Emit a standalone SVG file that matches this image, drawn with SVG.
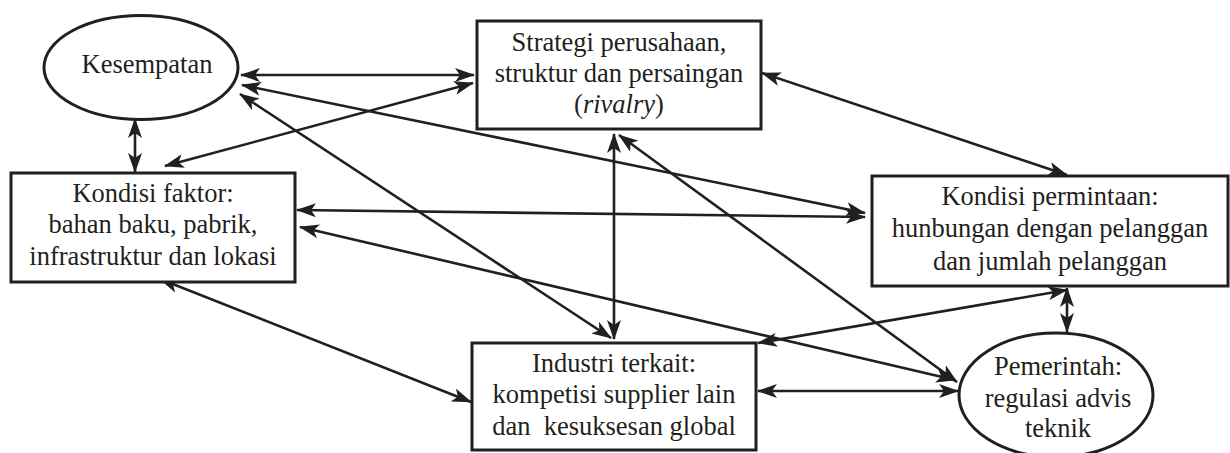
<svg xmlns="http://www.w3.org/2000/svg" width="1230" height="453" viewBox="0 0 1230 453">
<style>
.box{fill:#fff;stroke:#231f20;stroke-width:3}
.t{font-size:26.5px;fill:#231f20;text-anchor:middle}
.c{stroke:#231f20;stroke-width:2.6;fill:none;marker-start:url(#a);marker-end:url(#a)}
</style>
<defs>
<marker id="a" viewBox="0 0 20 14" refX="19" refY="7" markerWidth="20" markerHeight="14" markerUnits="userSpaceOnUse" orient="auto-start-reverse">
<path d="M0,0 L20,7 L0,14 L5,7 z" fill="#231f20"/>
</marker>
</defs>
<rect width="1230" height="453" fill="#fff"/>
<g id="connectors">
<line class="c" x1="241" y1="75" x2="474" y2="75"/>
<line class="c" x1="135" y1="119" x2="135" y2="172"/>
<line class="c" x1="165" y1="166" x2="473" y2="83"/>
<line class="c" x1="242" y1="85" x2="865" y2="213"/>
<line class="c" x1="240" y1="94" x2="611" y2="338"/>
<line class="c" x1="614" y1="134" x2="614" y2="339"/>
<line class="c" x1="619" y1="135" x2="957" y2="382"/>
<line class="c" x1="762" y1="73" x2="1067" y2="175"/>
<line class="c" x1="297" y1="210" x2="865" y2="217"/>
<line class="c" x1="300" y1="227" x2="955" y2="380"/>
<line class="c" x1="160" y1="279" x2="471" y2="402"/>
<line class="c" x1="758" y1="343" x2="1067" y2="290"/>
<line class="c" x1="1067" y1="288" x2="1067" y2="332"/>
<line class="c" x1="758" y1="391" x2="958" y2="391"/>
</g>
<g font-family="'Liberation Serif', 'Times New Roman', 'DejaVu Serif', serif">
<g id="kesempatan">
<ellipse class="box" cx="141" cy="67.5" rx="97" ry="52"/>
<text class="t" x="147" y="73">Kesempatan</text>
</g>
<g id="strategi">
<rect class="box" x="477" y="21" width="284" height="108"/>
<text class="t" x="619" y="51">Strategi perusahaan,</text>
<text class="t" x="619" y="82">struktur dan persaingan</text>
<text class="t" x="619" y="113">(<tspan font-style="italic">rivalry</tspan>)</text>
</g>
<g id="kondisi-faktor">
<rect class="box" x="11" y="173" width="284" height="109"/>
<text class="t" x="153" y="202">Kondisi faktor:</text>
<text class="t" x="153" y="233">bahan baku, pabrik,</text>
<text class="t" x="153" y="265">infrastruktur dan lokasi</text>
</g>
<g id="kondisi-permintaan">
<rect class="box" x="872" y="176" width="356" height="110"/>
<text class="t" x="1050" y="205">Kondisi permintaan:</text>
<text class="t" x="1050" y="237">hunbungan dengan pelanggan</text>
<text class="t" x="1050" y="270">dan jumlah pelanggan</text>
</g>
<g id="industri">
<rect class="box" x="472" y="343" width="284" height="107"/>
<text class="t" x="614" y="372">Industri terkait:</text>
<text class="t" x="614" y="403">kompetisi supplier lain</text>
<text class="t" x="614" y="435" xml:space="preserve">dan  kesuksesan global</text>
</g>
<g id="pemerintah">
<ellipse class="box" cx="1056" cy="395" rx="97" ry="62"/>
<text class="t" x="1058" y="375">Pemerintah:</text>
<text class="t" x="1058" y="407">regulasi advis</text>
<text class="t" x="1058" y="437">teknik</text>
</g>
</g>
</svg>
